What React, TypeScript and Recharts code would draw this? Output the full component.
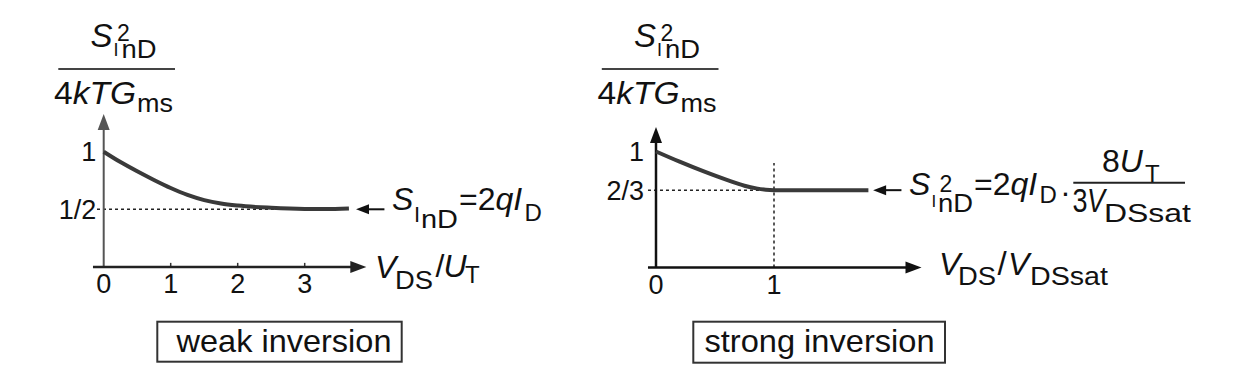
import React from 'react';
import { LineChart, Line, XAxis, YAxis, ReferenceLine, Customized } from 'recharts';

const FONT = '"Liberation Sans", Arial, Helvetica, sans-serif';
const INK = '#111';

// ---------- data: weak inversion ----------
const weakX = [0, 0.25, 0.5, 0.75, 1, 1.25, 1.5, 1.75, 2, 2.5, 3, 3.3, 3.66];
const weakY = [1, 0.91, 0.83, 0.755, 0.685, 0.625, 0.58, 0.55, 0.532, 0.513, 0.503, 0.502, 0.507];
const weakXTicks = [0, 1, 2, 3];
const weakXTickLabels = ['0', '1', '2', '3'];
const weakYTicks = [0.5, 1];
const weakYTickLabels = ['1/2', '1'];

// ---------- data: strong inversion ----------
const strongX = [0, 0.2, 0.4, 0.6, 0.75, 0.85, 0.93, 1, 1.4, 1.8];
const strongY = [1, 0.912, 0.83, 0.755, 0.705, 0.682, 0.67, 0.667, 0.667, 0.667];
const strongXTicks = [0, 1];
const strongXTickLabels = ['0', '1'];
const strongYTicks = [2 / 3, 1];
const strongYTickLabels = ['2/3', '1'];

const weakData = weakX.map((x, i) => ({ x, y: weakY[i] }));
const strongData = strongX.map((x, i) => ({ x, y: strongY[i] }));

const RIGHT_LEFT = 580;

const fmt = (ticks: number[], labels: string[]) => (v: number) => {
  const i = ticks.findIndex((t) => Math.abs(t - v) < 1e-6);
  return i >= 0 ? labels[i] : '';
};

const arrowShape = (len: number, half: number, color: string, width: number) => (p: any) => {
  const { x1, y1, x2, y2 } = p;
  const dx = x2 - x1;
  const dy = y2 - y1;
  const L = Math.hypot(dx, dy) || 1;
  const ux = dx / L;
  const uy = dy / L;
  const bx = x2 - ux * len;
  const by = y2 - uy * len;
  const nx = -uy;
  const ny = ux;
  return (
    <g>
      <line x1={x1} y1={y1} x2={bx + ux} y2={by + uy} stroke={color} strokeWidth={width} />
      <polygon
        points={`${x2},${y2} ${bx + nx * half},${by + ny * half} ${bx - nx * half},${by - ny * half}`}
        fill={color}
      />
    </g>
  );
};

type TP = { x: number; y: number; s: number; it?: boolean; len?: number; children: React.ReactNode };
const T = ({ x, y, s, it, len, children }: TP) => (
  <text
    x={x}
    y={y}
    fontSize={s}
    fontStyle={it ? 'italic' : 'normal'}
    fontFamily={FONT}
    fill={INK}
    textLength={len}
    lengthAdjust={len ? 'spacingAndGlyphs' : undefined}
  >
    {children}
  </text>
);

const Title = ({ dx }: { dx: number }) => (
  <g>
    <T x={90.5 + dx} y={46.5} s={33} it>S</T>
    <T x={113.5 + dx} y={56} s={18}>I</T>
    <T x={117 + dx} y={40.5} s={23}>2</T>
    <T x={121.5 + dx} y={57.5} s={25} len={35}>nD</T>
    <line x1={58.3 + dx} x2={175 + dx} y1={69} y2={69} stroke="#444" strokeWidth={2} />
    <text x={54 + dx} y={104} fontSize={32} fontFamily={FONT} fill={INK} textLength={82} lengthAdjust="spacingAndGlyphs">
      4<tspan fontStyle="italic">kTG</tspan>
    </text>
    <T x={137 + dx} y={112} s={25} len={36}>ms</T>
  </g>
);

const WeakTexts = () => (
  <g>
    <Title dx={0} />
    {/* annotation */}
    <T x={392} y={210} s={32} it>S</T>
    <T x={414} y={221.7} s={22}>I</T>
    <T x={421} y={228} s={26} len={37}>nD</T>
    <text x={459} y={210} fontSize={32} fontFamily={FONT} fill={INK}>
      =2<tspan fontStyle="italic">qI</tspan>
    </text>
    <T x={524.5} y={220.7} s={24}>D</T>
    {/* x axis label */}
    <T x={375} y={277.7} s={32} it>V</T>
    <T x={395} y={289.3} s={26} len={38}>DS</T>
    <T x={435.5} y={277} s={32}>/</T>
    <T x={443.5} y={277} s={32} it>U</T>
    <T x={465} y={283.3} s={24}>T</T>
    {/* box */}
    <rect x={157.3} y={321.7} width={244.4} height={40} fill="none" stroke="#333" strokeWidth={2} />
    <T x={176.5} y={351.7} s={32} len={215}>weak inversion</T>
  </g>
);

const StrongTexts = () => (
  <g transform={`translate(${-RIGHT_LEFT},0)`}>
    <Title dx={543.5} />
    {/* annotation */}
    <T x={909} y={195} s={32} it>S</T>
    <T x={931.5} y={207} s={17}>I</T>
    <T x={939.5} y={191.5} s={23}>2</T>
    <T x={938} y={211.7} s={25} len={35}>nD</T>
    <text x={974} y={195} fontSize={32} fontFamily={FONT} fill={INK}>
      =2<tspan fontStyle="italic">qI</tspan>
    </text>
    <T x={1039.5} y={203.3} s={24}>D</T>
    <T x={1061} y={195.5} s={32}>.</T>
    <line x1={1073.3} x2={1185} y1={182.7} y2={182.7} stroke="#222" strokeWidth={2} />
    <text x={1102} y={171.7} fontSize={32} fontFamily={FONT} fill={INK}>
      8<tspan fontStyle="italic">U</tspan>
    </text>
    <T x={1145} y={181.7} s={24}>T</T>
    <T x={1072.5} y={212} s={33} len={15}>3</T>
    <T x={1087} y={212} s={33} it len={18}>V</T>
    <T x={1104} y={221.7} s={25} len={87}>DSsat</T>
    {/* x axis label */}
    <T x={939} y={275} s={32} it>V</T>
    <T x={958} y={285} s={26} len={38}>DS</T>
    <T x={997.5} y={275} s={33}>/</T>
    <T x={1008} y={275} s={32} it>V</T>
    <T x={1030} y={285} s={26} len={78}>DSsat</T>
    {/* box */}
    <rect x={693.3} y={321.7} width={251.7} height={41} fill="none" stroke="#333" strokeWidth={2} />
    <T x={704.5} y={351.7} s={32} len={230}>strong inversion</T>
  </g>
);

const tickStyle = { fill: INK, fontSize: 27, fontFamily: FONT };

const WeakChart = () => (
  <LineChart
    width={RIGHT_LEFT}
    height={377}
    data={weakData}
    margin={{ top: 36.5, right: RIGHT_LEFT - 371.7, bottom: 80.1, left: 43.7 }}
  >
    <XAxis
      type="number"
      dataKey="x"
      domain={[0, 4]}
      ticks={weakXTicks}
      interval={0}
      axisLine={false}
      tickLine={false}
      tickSize={0}
      tickMargin={7}
      height={30}
      tick={tickStyle}
      tickFormatter={fmt(weakXTicks, weakXTickLabels)}
    />
    <YAxis
      type="number"
      domain={[0, 2]}
      ticks={weakYTicks}
      interval={0}
      axisLine={false}
      tickLine={false}
      tickSize={0}
      tickMargin={7.5}
      width={60}
      tick={tickStyle}
      tickFormatter={fmt(weakYTicks, weakYTickLabels)}
    />
    <ReferenceLine
      segment={[{ x: -0.1, y: 0.5 }, { x: 3.5, y: 0.5 }]}
      stroke="#222"
      strokeWidth={1.5}
      strokeDasharray="3 3"
      ifOverflow="visible"
    />
    {weakXTicks.filter((t) => t > 0).map((t) => (
      <ReferenceLine key={t} segment={[{ x: t, y: 0 }, { x: t, y: 0.035 }]} stroke="#333" strokeWidth={1.5} ifOverflow="visible" />
    ))}
    <ReferenceLine segment={[{ x: 0, y: 0 }, { x: 0, y: 1.327 }]} ifOverflow="visible" shape={arrowShape(16, 6, '#555', 2)} />
    <ReferenceLine segment={[{ x: -0.16, y: 0 }, { x: 3.92, y: 0 }]} ifOverflow="visible" shape={arrowShape(16, 6, '#222', 2.5)} />
    <ReferenceLine segment={[{ x: 4.19, y: 0.5 }, { x: 3.766, y: 0.5 }]} ifOverflow="visible" shape={arrowShape(13, 5, '#111', 2)} />
    <Line
      type="monotone"
      dataKey="y"
      stroke="#3a3a3a"
      strokeWidth={4}
      dot={false}
      activeDot={false}
      isAnimationActive={false}
    />
    <Customized component={WeakTexts} />
  </LineChart>
);

const StrongChart = () => (
  <LineChart
    width={1255 - RIGHT_LEFT}
    height={377}
    data={strongData}
    margin={{ top: 35.5, right: 1255 - RIGHT_LEFT - (656 - RIGHT_LEFT + 283.2), bottom: 79.5, left: 656 - RIGHT_LEFT - 30 }}
  >
    <XAxis
      type="number"
      dataKey="x"
      domain={[0, 2.4]}
      ticks={strongXTicks}
      interval={0}
      axisLine={false}
      tickLine={false}
      tickSize={0}
      tickMargin={7}
      height={30}
      tick={tickStyle}
      tickFormatter={fmt(strongXTicks, strongXTickLabels)}
    />
    <YAxis
      type="number"
      domain={[0, 2]}
      ticks={strongYTicks}
      interval={0}
      axisLine={false}
      tickLine={false}
      tickSize={0}
      tickMargin={12}
      width={30}
      tick={tickStyle}
      tickFormatter={fmt(strongYTicks, strongYTickLabels)}
    />
    <ReferenceLine
      segment={[{ x: -0.068, y: 2 / 3 }, { x: 1, y: 2 / 3 }]}
      stroke="#222"
      strokeWidth={1.5}
      strokeDasharray="3 3"
      ifOverflow="visible"
    />
    <ReferenceLine
      segment={[{ x: 1, y: 0 }, { x: 1, y: 0.9 }]}
      stroke="#222"
      strokeWidth={1.5}
      strokeDasharray="3 3"
      ifOverflow="visible"
    />
    <ReferenceLine segment={[{ x: 0, y: 0 }, { x: 0, y: 1.211 }]} ifOverflow="visible" shape={arrowShape(16, 6, '#111', 2.5)} />
    <ReferenceLine segment={[{ x: -0.068, y: 0 }, { x: 2.25, y: 0 }]} ifOverflow="visible" shape={arrowShape(16, 6, '#111', 2.5)} />
    <ReferenceLine segment={[{ x: 2.08, y: 2 / 3 }, { x: 1.84, y: 2 / 3 }]} ifOverflow="visible" shape={arrowShape(13, 5, '#111', 2)} />
    <Line
      type="monotone"
      dataKey="y"
      stroke="#3a3a3a"
      strokeWidth={4}
      dot={false}
      activeDot={false}
      isAnimationActive={false}
    />
    <Customized component={StrongTexts} />
  </LineChart>
);

export default function App() {
  return (
    <div style={{ position: 'absolute', left: 0, top: 0, width: 1255, height: 377, background: '#fff', overflow: 'hidden' }}>
      <div style={{ position: 'absolute', left: 0, top: 0 }}>
        <WeakChart />
      </div>
      <div style={{ position: 'absolute', left: RIGHT_LEFT, top: 0 }}>
        <StrongChart />
      </div>
    </div>
  );
}
